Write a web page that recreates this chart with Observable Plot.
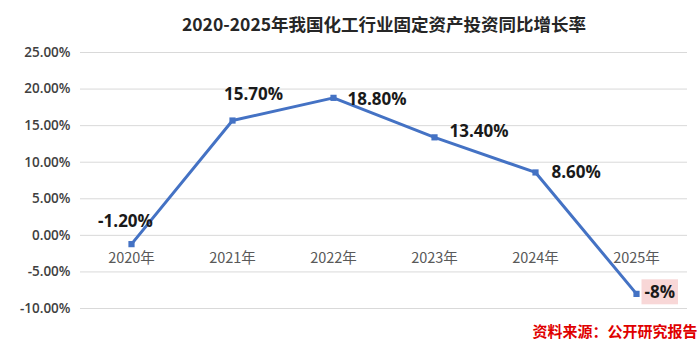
<!DOCTYPE html>
<html><head><meta charset="utf-8">
<script src="https://cdn.jsdelivr.net/npm/d3@7"></script>
<script src="https://cdn.jsdelivr.net/npm/@observablehq/plot@0.6"></script>
<style>
html,body{margin:0;padding:0;background:#fff;}
#chart svg{display:block;}
</style>
</head><body><div id="chart"></div>
<script>
const title = "2020-2025年我国化工行业固定资产投资同比增长率";
const source = "资料来源：公开研究报告";
const years = ["2020年","2021年","2022年","2023年","2024年","2025年"];
const values = [-1.2, 15.7, 18.8, 13.4, 8.6, -8];
const valueLabels = ["-1.20%","15.70%","18.80%","13.40%","8.60%","-8%"];
const yTicks = [-10,-5,0,5,10,15,20,25];
const labelDx = [-6, 21, 14, 15, 16, 8];
const labelDy = [-23, -26, 2, -6, 0, -1];
const labelAnchor = ["middle","middle","start","start","start","start"];

const data = years.map((y,i)=>({year:y, value:values[i], label:valueLabels[i], dx:labelDx[i], dy:labelDy[i], anchor:labelAnchor[i]}));
const font = "'Open Sans','Noto Sans CJK SC',sans-serif";
const cjk = "'Noto Sans CJK SC','Noto Sans',sans-serif";
const blue = "#4472C4";

const labelMarks = data.map(d => Plot.text([d], {
  x:"year", y:"value", text:"label", dx:d.dx, dy:d.dy, textAnchor:d.anchor,
  fontSize:17, fontWeight:"bold", fill:"#1a1a1a", fontFamily:font,
  className: d.label === "-8%" ? "hl" : undefined
}));

const chart = Plot.plot({
  width:700, height:358,
  marginLeft:80, marginRight:13, marginTop:52, marginBottom:50,
  style:{background:"#fff", fontFamily:font, overflow:"visible"},
  x:{type:"point", domain:years, padding:0.5, axis:null},
  y:{domain:[-10,25], axis:null},
  marks:[
    Plot.gridY(yTicks, {stroke:"#d9d9d9", strokeOpacity:1, strokeWidth:1}),
    Plot.axisY(yTicks, {tickSize:0, tickPadding:10, label:null, tickFormat:d=>d.toFixed(2)+"%", fontSize:13.5, fontWeight:600, fill:"#404040", fontFamily:font}),
    Plot.text(years, {x:d=>d, y:()=>0, text:d=>d, dy:23, fontSize:14.5, fill:"#595959", fontFamily:cjk}),
    Plot.line(data, {x:"year", y:"value", stroke:blue, strokeWidth:3}),
    Plot.dot(data, {x:"year", y:"value", symbol:"square", r:3.5, fill:blue}),
    ...labelMarks,
    Plot.text([title], {frameAnchor:"top", text:d=>d, dy:-34, fontSize:17.5, fontWeight:"bold", fill:"#262626", fontFamily:cjk}),
    Plot.text([source], {frameAnchor:"bottom-right", text:d=>d, dx:10, dy:28, textAnchor:"end", fontSize:15, fontWeight:"bold", fill:"#e00000", fontFamily:cjk})
  ]
});
document.getElementById("chart").appendChild(chart);
// pink highlight behind the -8% label
const g = chart.querySelector("g.hl");
if (g) {
  const t = g.querySelector("text");
  const bb = t.getBBox();
  const ns = "http://www.w3.org/2000/svg";
  const r = document.createElementNS(ns, "rect");
  r.setAttribute("x", bb.x - 3); r.setAttribute("y", bb.y - 1);
  r.setAttribute("width", bb.width + 6); r.setAttribute("height", bb.height + 2);
  r.setAttribute("fill", "#f8d7d7");
  if (t.getAttribute("transform")) r.setAttribute("transform", t.getAttribute("transform"));
  t.parentNode.insertBefore(r, t);
}
</script></body></html>
